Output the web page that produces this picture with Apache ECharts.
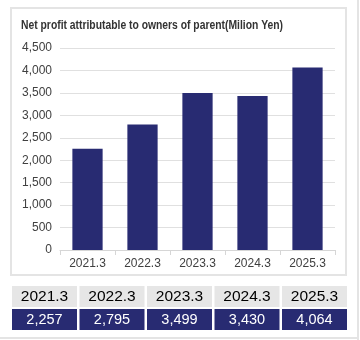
<!DOCTYPE html>
<html><head><meta charset="utf-8">
<script src="https://cdn.jsdelivr.net/npm/echarts@6/dist/echarts.min.js"></script>
<style>html,body{margin:0;padding:0;background:#fff}#c{width:360px;height:340px}</style>
</head><body><div id="c"></div>
<script>
const titleText = 'Net profit attributable to owners of parent(Milion Yen)';
const categories = ['2021.3', '2022.3', '2023.3', '2024.3', '2025.3'];
const values = [2257, 2795, 3499, 3430, 4064];
const tableLabels = ['2,257', '2,795', '3,499', '3,430', '4,064'];

const navy = '#282b72';
const chart = echarts.init(document.getElementById('c'), null, {renderer: 'canvas'});

const titleFont = '600 13px "Liberation Sans", Arial, sans-serif';
const mctx = document.createElement('canvas').getContext('2d');
mctx.font = titleFont;
const titleScale = 262 / mctx.measureText(titleText).width;

const graphics = [
  {type: 'rect', shape: {x: 11, y: 8, width: 335, height: 267}, style: {fill: 'none', stroke: '#e4e4e4', lineWidth: 2}, z: -1},
  {type: 'line', shape: {x1: 358, y1: 0, x2: 358, y2: 340}, style: {stroke: '#e4e4e4', lineWidth: 2}},
  {type: 'line', shape: {x1: 0, y1: 338, x2: 358, y2: 338}, style: {stroke: '#e4e4e4', lineWidth: 2}},
  {type: 'text', x: 21, y: 25, scaleX: titleScale, originX: 0, originY: 0,
   style: {text: titleText, font: titleFont, fill: '#333', verticalAlign: 'middle'}}
];
const colStart = 12, colW = 65, colStep = 67.5;
categories.forEach((c, i) => {
  const x = colStart + i * colStep;
  graphics.push({type: 'rect', shape: {x: x, y: 286, width: colW, height: 21}, style: {fill: '#e6e6e6'}});
  graphics.push({type: 'text', x: x + colW / 2, y: 296.5, style: {text: c, font: '15.5px "Liberation Sans", Arial, sans-serif', fill: '#000', align: 'center', verticalAlign: 'middle'}});
  graphics.push({type: 'rect', shape: {x: x, y: 309, width: colW, height: 21}, style: {fill: navy}});
  graphics.push({type: 'text', x: x + colW / 2, y: 319.5, style: {text: tableLabels[i], font: '14.5px "Liberation Sans", Arial, sans-serif', fill: '#fff', align: 'center', verticalAlign: 'middle'}});
});

chart.setOption({
  animation: false,
  grid: {left: 60, right: 25, top: 48, bottom: 90},
  xAxis: {
    type: 'category', data: categories,
    axisLine: {lineStyle: {color: '#d6d6d6'}},
    axisTick: {show: true, length: 5, lineStyle: {color: '#d6d6d6'}},
    axisLabel: {color: '#404040', fontSize: 12, fontFamily: '"Liberation Sans", Arial, sans-serif', margin: 8}
  },
  yAxis: {
    type: 'value', min: 0, max: 4500, interval: 500,
    axisLine: {show: false}, axisTick: {show: false},
    splitLine: {lineStyle: {color: '#e0e0e0'}},
    axisLabel: {color: '#404040', fontSize: 12, fontFamily: '"Liberation Sans", Arial, sans-serif', margin: 8,
      formatter: v => v.toLocaleString('en-US')}
  },
  series: [{type: 'bar', data: values, barWidth: '55%', itemStyle: {color: navy}}],
  graphic: graphics
});
</script></body></html>
